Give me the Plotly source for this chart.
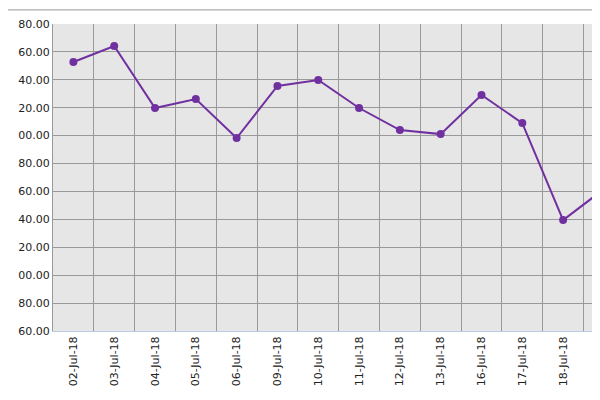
import plotly.graph_objects as go

dates = ["02-Jul-18","03-Jul-18","04-Jul-18","05-Jul-18","06-Jul-18","09-Jul-18","10-Jul-18",
         "11-Jul-18","12-Jul-18","13-Jul-18","16-Jul-18","17-Jul-18","18-Jul-18","19-Jul-18"]
values = [352.8,364.2,319.8,326.2,298.3,335.6,339.9,319.8,304.0,301.1,329.1,309.0,239.5,261.7]
tick_vals = [380,360,340,320,300,280,260,240,220,200,180,160]
tick_text = ["80.00","60.00","40.00","20.00","00.00","80.00","60.00","40.00","20.00","00.00","80.00","60.00"]

fig = go.Figure(go.Scatter(x=dates, y=values, mode="lines+markers", cliponaxis=False,
    line=dict(color="#7030A0", width=2), marker=dict(color="#7030A0", size=8)))
fig.update_layout(width=600, height=400, margin=dict(l=45, r=0, t=16, b=77),
    plot_bgcolor="#e6e6e6", paper_bgcolor="white", showlegend=False,
    font=dict(family="DejaVu Sans", size=11, color="#222"))
fig.update_xaxes(type="category", range=[-0.5, 13.1], tickson="boundaries", tickangle=-90,
    automargin=False, showgrid=True, gridcolor="#999", gridwidth=1, ticks="",
    showline=True, linecolor="#b8cce4")
fig.update_yaxes(range=[160, 380], tickvals=tick_vals, ticktext=tick_text, showgrid=True,
    automargin=False, gridcolor="#999", gridwidth=1, zeroline=False, showline=True, linecolor="#999")
fig.add_shape(type="rect", xref="paper", yref="paper", x0=-0.1, x1=1.1, y0=1.046, y1=1.2,
    line=dict(color="#999", width=1), fillcolor="rgba(0,0,0,0)")
fig.write_html("out.html")
